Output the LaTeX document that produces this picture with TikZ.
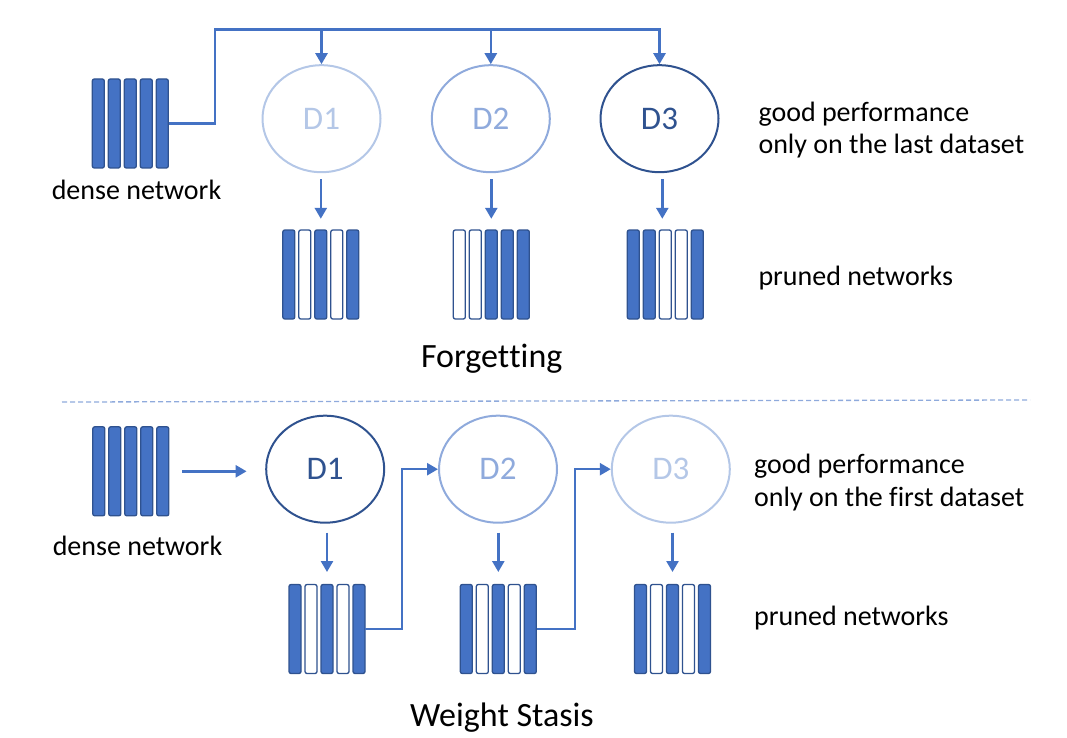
\documentclass[tikz,border=0pt]{standalone}
\usepackage{fontspec}
\setmainfont[Ligatures=NoCommon,RawFeature={-calt;-clig;-dlig}]{Carlito}
\usetikzlibrary{shapes.geometric,arrows.meta,calc}
\definecolor{barfill}{HTML}{4472C4}
\definecolor{barline}{HTML}{2F528F}
\definecolor{clight}{HTML}{B4C7E7}
\definecolor{cmed}{HTML}{8FAADC}
\definecolor{cdark}{HTML}{2F528F}
\definecolor{conncol}{HTML}{4472C4}
\definecolor{sepcol}{HTML}{8FAADC}

\newcommand{\netblock}[4]{%
  \node[inner sep=0pt, minimum width=76pt, minimum height=89pt] (#1) at (#2,#3) {};
  \foreach \f [count=\i from 0] in {#4} {%
    \ifnum\f=1
      \draw[fullbar] ({#2-38+16*\i},{#3-44.5}) rectangle ++(12,89);
    \else
      \draw[emptybar] ({#2-38+16*\i},{#3-44.5}) rectangle ++(12,89);
    \fi
  }%
}

\begin{document}
\begin{tikzpicture}[x=1pt,y=-1pt,
  fullbar/.style={fill=barfill, draw=barline, line width=1.3pt, rounded corners=2pt},
  emptybar/.style={fill=white, draw=barline, line width=1.3pt, rounded corners=2pt},
  dset/.style={ellipse, minimum width=118pt, minimum height=107pt, inner sep=0pt,
    line width=2pt, font=\fontsize{33}{40}\selectfont},
  conn/.style={draw=conncol, line width=2.5pt},
  arr/.style={-{Triangle[length=11pt,width=12pt]}},
  lbl/.style={font=\fontsize{28}{32}\selectfont, inner sep=0pt},
  ttl/.style={font=\fontsize{34}{40}\selectfont, inner sep=0pt},
  sep/.style={draw=sepcol, line width=1.3pt, dash pattern=on 5pt off 3pt}
]
\useasboundingbox (0,0) rectangle (1067,738);

% ---------- Forgetting ----------
\netblock{td}{130.3}{123.5}{1,1,1,1,1}
\node[lbl, anchor=base] (tdl) at (136.5,200) {dense network};

\node[dset, draw=clight, text=clight] (te1) at (321.5,118.7) {D1};
\node[dset, draw=cmed, text=cmed] (te2) at (490.8,118.7) {D2};
\node[dset, draw=cdark, text=cdark] (te3) at (659.5,118.7) {D3};

\netblock{tp1}{320.8}{274.5}{1,0,1,0,1}
\netblock{tp2}{491.3}{274.5}{0,0,1,1,1}
\netblock{tp3}{665.3}{274.5}{1,1,0,0,1}

\coordinate (bus) at (215,29.3);
\draw[conn,arr] (td.east) -| (bus) -| (te3.north);
\draw[conn,arr] (te1.north |- bus) -- (te1.north);
\draw[conn,arr] (te2.north |- bus) -- (te2.north);

\draw[conn,arr,shorten <=6pt,shorten >=11pt] (tp1.north |- te1.south) -- (tp1.north);
\draw[conn,arr,shorten <=6pt,shorten >=11pt] (tp2.north |- te2.south) -- (tp2.north);
\draw[conn,arr,shorten <=6pt,shorten >=11pt] ($(tp3.north |- te3.south)+(-3,0)$) -- ($(tp3.north)+(-3,0)$);

\node[lbl, anchor=base west] (tr1) at (758.3,122) {good performance};
\node[lbl, anchor=base west] (tr2) at (758.3,154) {only on the last dataset};
\node[lbl, anchor=base west] (tr3) at (758.3,285) {pruned networks};

\node[ttl, anchor=base] (ttitle) at (491.7,367.3) {Forget\kern0pt ting};

% ---------- separator ----------
\draw[sep] (62,402) -- (1030,400);

% ---------- Weight Stasis ----------
\netblock{bd}{130.8}{471.3}{1,1,1,1,1}
\node[lbl, anchor=base] (bdl) at (137.5,555.5) {dense network};

\node[dset, draw=cdark, text=cdark] (be1) at (325.2,469.2) {D1};
\node[dset, draw=cmed, text=cmed] (be2) at (498,469.2) {D2};
\node[dset, draw=clight, text=clight] (be3) at (670.8,469.2) {D3};

\netblock{bp1}{327}{629}{1,0,1,0,1}
\netblock{bp2}{498.3}{629}{1,0,1,0,1}
\netblock{bp3}{672.5}{629}{1,0,1,0,1}

\draw[conn,arr,shorten <=13pt,shorten >=18.6pt] (bd.east) -- (be1.west |- bd.east);
\draw[conn,arr,shorten <=9pt,shorten >=12.3pt] (bp1.north |- be1.south) -- (bp1.north);
\draw[conn,arr,shorten <=9pt,shorten >=12.3pt] (bp2.north |- be2.south) -- (bp2.north);
\draw[conn,arr,shorten <=9pt,shorten >=12.3pt] (bp3.north |- be3.south) -- (bp3.north);

\draw[conn,arr] (bp1.east) -- ++(36.7,0) |- (be2.west);
\draw[conn,arr] (bp2.east) -- ++(38.4,0) |- (be3.west);

\node[lbl, anchor=base west] (br1) at (754,473.5) {good performance};
\node[lbl, anchor=base west] (br2) at (754,506) {only on the first dataset};
\node[lbl, anchor=base west] (br3) at (754,625) {pruned networks};

\node[ttl, anchor=base] (btitle) at (502,726) {Weight Stasis};
\end{tikzpicture}
\end{document}
